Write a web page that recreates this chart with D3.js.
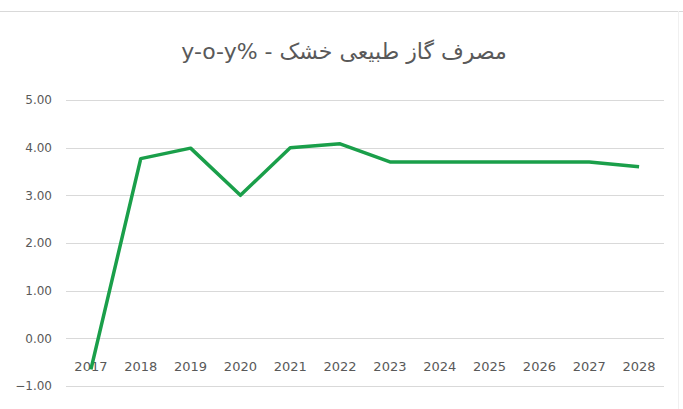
<!DOCTYPE html>
<html>
<head>
<meta charset="utf-8">
<script src="https://cdn.jsdelivr.net/npm/d3@7"></script>
<style>
  body { margin: 0; background: #fff; }
  text { font-family: "DejaVu Sans", sans-serif; }
</style>
</head>
<body>
<script>
// chart data
const years = ['2017', '2018', '2019', '2020', '2021', '2022', '2023', '2024', '2025', '2026', '2027', '2028']
const growth = [-0.65, 3.77, 3.99, 3.0, 4.0, 4.08, 3.7, 3.7, 3.7, 3.7, 3.7, 3.6]
const yTicks = [-1, 0, 1, 2, 3, 4, 5]
// LRM keeps the % at the end of the latin run
const title = 'مصرف گاز طبیعی خشک - y-o-y%\u200E'

const width = 683, height = 409
const margin = {top: 100, right: 19, bottom: 23, left: 66}

const svg = d3.select('body').append('svg')
  .attr('width', width)
  .attr('height', height)

// outer chart border (only the top edge is visible in the picture)
svg.append('line')
  .attr('x1', 0).attr('x2', width)
  .attr('y1', 11.5).attr('y2', 11.5)
  .attr('stroke', '#d9d9d9')
svg.append('line')
  .attr('x1', 678.5).attr('x2', 678.5)
  .attr('y1', 11).attr('y2', height)
  .attr('stroke', '#f0f0f0')

const x = d3.scaleBand()
  .domain(years)
  .range([margin.left, width - margin.right])

const y = d3.scaleLinear()
  .domain([-1, 5])
  .range([height - margin.bottom, margin.top])

// gridlines
svg.append('g')
  .selectAll('line')
  .data(yTicks)
  .enter().append('line')
  .attr('x1', margin.left)
  .attr('x2', width - margin.right)
  .attr('y1', d => Math.round(y(d)) + 0.5)
  .attr('y2', d => Math.round(y(d)) + 0.5)
  .attr('stroke', '#d9d9d9')
  .attr('stroke-width', 1.2)

// y labels
svg.append('g')
  .selectAll('text')
  .data(yTicks)
  .enter().append('text')
  .attr('x', 52)
  .attr('y', d => y(d))
  .attr('dy', '0.35em')
  .attr('text-anchor', 'end')
  .attr('font-size', 12)
  .attr('fill', '#595959')
  .text(d => d3.format('.2f')(d))

// x labels sit just under the zero line
svg.append('g')
  .selectAll('text')
  .data(years)
  .enter().append('text')
  .attr('x', d => x(d) + x.bandwidth() / 2)
  .attr('y', y(0) + 33)
  .attr('text-anchor', 'middle')
  .attr('font-size', 13)
  .attr('fill', '#595959')
  .text(d => d)

// the series line
const line = d3.line()
  .x((d, i) => x(years[i]) + x.bandwidth() / 2)
  .y(d => y(d))

svg.append('path')
  .datum(growth)
  .attr('d', line)
  .attr('fill', 'none')
  .attr('stroke', '#1a9f4a')
  .attr('stroke-width', 3.5)
  .attr('stroke-linejoin', 'round')

// title
svg.append('text')
  .attr('x', 344)
  .attr('y', 59)
  .attr('text-anchor', 'middle')
  .attr('font-size', 22)
  .attr('fill', '#595959')
  .attr('direction', 'rtl')
  .text(title)
</script>
</body>
</html>
